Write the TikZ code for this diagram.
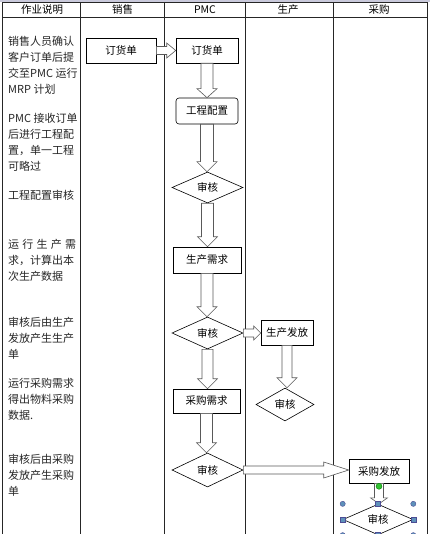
\documentclass[tikz,border=0pt]{standalone}
\usepackage{fontspec}
\setmainfont{Noto Sans CJK SC}
\usetikzlibrary{shapes.geometric,calc}

\tikzset{
  lane/.style={draw=black!85, line width=0.9pt},
  headtext/.style={font=\fontsize{10.5}{12}\selectfont},
  note/.style={anchor=north west, align=left, inner sep=0pt, text=black!85,
    font=\fontsize{11}{16}\selectfont},
  procbox/.style={draw, line width=0.6pt, inner sep=0pt, fill=white,
    font=\fontsize{10.5}{12}\selectfont},
  roundbox/.style={procbox, rounded corners=3pt},
  auditdiamond/.style={draw, diamond, line width=0.6pt, inner sep=0pt, fill=white,
    font=\fontsize{10.5}{12}\selectfont},
  blockarrow/.style={draw=black!65, fill=white, line width=0.6pt},
  handle/.style={draw=blue!40!black!70, fill=blue!45!cyan!40!gray!90, line width=0.4pt}
}

% hollow block arrows: from, to, shaft half width, head half width, head length
\newcommand{\downblock}[5]{%
  \draw[blockarrow] let \p1=(#1.south), \p2=(#2.north) in
    (\x1-#3,\y1) -- (\x1-#3,\y2+#5) -- (\x1-#4,\y2+#5) -- (\x1,\y2)
    -- (\x1+#4,\y2+#5) -- (\x1+#3,\y2+#5) -- (\x1+#3,\y1) -- cycle;}
\newcommand{\rightblock}[5]{%
  \draw[blockarrow] let \p1=(#1.east), \p2=(#2.west) in
    (\x1,\y1+#3) -- (\x2-#5,\y1+#3) -- (\x2-#5,\y1+#4) -- (\x2,\y1)
    -- (\x2-#5,\y1-#4) -- (\x2-#5,\y1-#3) -- (\x1,\y1-#3) -- cycle;}

\begin{document}
\begin{tikzpicture}[x=1pt, y=-1pt]
        \useasboundingbox (0,0) rectangle (430,534);
        \fill[blue!20!gray!35] (0,0) rectangle (430,2);

        % Define the lanes
        \draw[lane] (2.5,534) -- (2.5,2.5) -- (427,2.5) -- (427,534);
        \draw[lane] (2.5,17.5) -- (427,17.5);
        \foreach \xlane in {80,164,245,333}
          \draw[lane] (\xlane,2.5) -- (\xlane,534);

        \node[headtext] (hnote) at (42,10) {作业说明};
        \node[headtext] (hsale) at (122.5,10) {销售};
        \node[headtext] (hpmc) at (205,10) {PMC};
        \node[headtext] (hprod) at (288,10) {生产};
        \node[headtext] (hpur) at (379,10) {采购};

        % Notes of the first column
        \node[note] (note1) at (8,36) {销售人员确认\\客户订单后提\\交至PMC 运行\\MRP 计划};
        \node[note] (note2) at (8,113.5) {PMC 接收订单\\后进行工程配\\置，单一工程\\可略过};
        \node[note] (note3) at (8,190) {工程配置审核};
        \node[note] (note4) at (8,239) {\makebox[68pt][s]{运\hfill 行\hfill 生\hfill 产\hfill 需}\\求，计算出本\\次生产数据};
        \node[note] (note5) at (8,317) {审核后由生产\\发放产生生产\\单};
        \node[note] (note6) at (8,378) {运行采购需求\\得出物料采购\\数据.};
        \node[note] (note7) at (8,454) {审核后由采购\\发放产生采购\\单};

        % Define the nodes
        \node[procbox, minimum width=70pt, minimum height=25pt] (saleorder) at (121,50.5) {订货单};
        \node[procbox, minimum width=62pt, minimum height=25pt] (pmcorder) at (207,50.5) {订货单};
        \node[roundbox, minimum width=62pt, minimum height=26pt] (engcfg) at (207,111) {工程配置};
        \node[auditdiamond, minimum width=71pt, minimum height=31pt] (audit1) at (207.5,187.5) {审核};
        \node[procbox, minimum width=68pt, minimum height=26pt] (prodreq) at (207,260) {生产需求};
        \node[auditdiamond, minimum width=71pt, minimum height=32pt] (audit2) at (207.5,333) {审核};
        \node[procbox, minimum width=52pt, minimum height=25pt] (prodrel) at (287,332.5) {生产发放};
        \node[auditdiamond, minimum width=58pt, minimum height=33pt] (audit3) at (285,404.5) {审核};
        \node[procbox, minimum width=67pt, minimum height=24pt] (purreq) at (206.5,401) {采购需求};
        \node[auditdiamond, minimum width=71pt, minimum height=34pt] (audit4) at (207.5,470) {审核};
        \node[procbox, minimum width=60pt, minimum height=24pt] (purrel) at (379,471) {采购发放};
        \node[auditdiamond, minimum width=70pt, minimum height=28pt] (audit5) at (378,519.5) {审核};

        % Draw the arrows
        \rightblock{saleorder}{pmcorder}{4pt}{7.5pt}{9pt}
        \downblock{pmcorder}{engcfg}{6pt}{10pt}{9pt}
        \downblock{engcfg}{audit1}{6.5pt}{10pt}{10pt}
        \downblock{audit1}{prodreq}{6pt}{10pt}{10pt}
        \downblock{prodreq}{audit2}{6pt}{10pt}{10pt}
        \rightblock{audit2}{prodrel}{4pt}{7pt}{7pt}
        \downblock{prodrel}{audit3}{5pt}{10pt}{10pt}
        \downblock{audit2}{purreq}{5.5pt}{10pt}{10pt}
        \downblock{purreq}{audit4}{6pt}{10pt}{10pt}
        \rightblock{audit4}{purrel}{4pt}{8pt}{25pt}
        \downblock{purrel}{audit5}{4.5pt}{8.5pt}{6pt}

        % Selection handles round the last diamond
        \fill[handle] (audit5.west |- audit5.north) circle (2.6pt);
        \fill[handle] (audit5.east |- audit5.north) circle (2.6pt);
        \fill[handle] (audit5.west |- audit5.south) circle (2.6pt);
        \fill[handle] (audit5.east |- audit5.south) circle (2.6pt);
        \foreach \side in {north, south, west, east}
          \filldraw[handle] ($(audit5.\side)+(-2.5,-2.5)$) rectangle ++(5,5);
        \filldraw[draw=green!50!black, fill=green!70!black!80, line width=0.4pt]
          ($(purrel.south)+(0,3)$) circle (3pt);
\end{tikzpicture}
\end{document}
